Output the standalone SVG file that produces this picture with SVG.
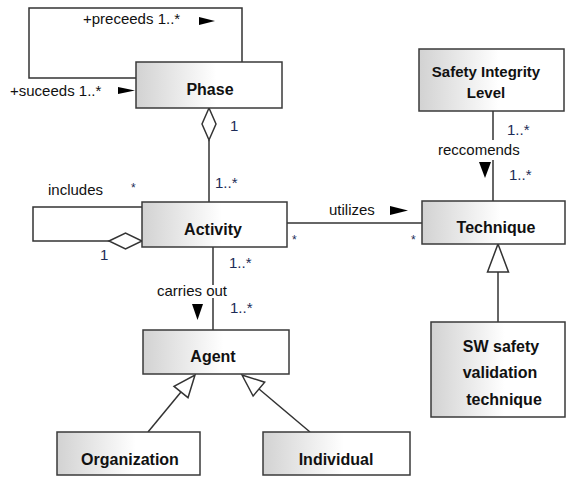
<svg xmlns="http://www.w3.org/2000/svg" width="566" height="477" viewBox="0 0 566 477">
  <defs>
    <linearGradient id="boxFill" x1="0" y1="0" x2="1" y2="0">
      <stop offset="0" stop-color="#d2d2d2"/>
      <stop offset="0.55" stop-color="#ffffff"/>
      <stop offset="1" stop-color="#ffffff"/>
    </linearGradient>
    <style>
      .box { fill: url(#boxFill); stroke: #3a3a3a; stroke-width: 1.5; }
      .name { font-family: "Liberation Sans", Arial, sans-serif; font-size: 16px; font-weight: bold; fill: #111; text-anchor: middle; }
      .lbl { font-family: "Liberation Sans", Arial, sans-serif; font-size: 15px; fill: #111; }
      .mult { font-family: "Liberation Sans", Arial, sans-serif; font-size: 15px; fill: #1d2c57; }
      .star { font-family: "Liberation Sans", Arial, sans-serif; font-size: 12px; fill: #1d2c57; }
      .line { fill: none; stroke: #333; stroke-width: 1.5; }
      .hollow { fill: #fff; stroke: #333; stroke-width: 1.5; }
      .dir { fill: #000; }
    </style>
  </defs>
  <rect width="566" height="477" fill="#fff"/>

  <g id="connectors">
    <!-- Phase self-association -->
    <polyline class="line" points="242,62 242,8 29,8 29,78 136,78"/>
    <!-- Phase aggregates Activity -->
    <line class="line" x1="209" y1="140" x2="209" y2="202"/>
    <polygon class="hollow" points="209,108 216,124 209,140 202,124"/>
    <!-- Activity includes (self aggregation) -->
    <polyline class="line" points="142,207 33,207 33,241 109,241"/>
    <polygon class="hollow" points="109,241 125.5,233 142,241 125.5,249"/>
    <!-- Activity utilizes Technique -->
    <line class="line" x1="287" y1="223" x2="422" y2="223"/>
    <!-- Activity carried out by Agent -->
    <line class="line" x1="213" y1="247" x2="213" y2="285"/>
    <line class="line" x1="213" y1="298" x2="213" y2="330"/>
    <!-- SIL recommends Technique -->
    <line class="line" x1="493" y1="111" x2="493" y2="140"/>
    <line class="line" x1="493" y1="160" x2="493" y2="201"/>
    <!-- Generalizations -->
    <line class="line" x1="498" y1="322" x2="498" y2="272"/>
    <polygon class="hollow" points="498,244 508.5,272 487.5,272"/>
    <line class="line" x1="148" y1="432" x2="181" y2="392"/>
    <polygon class="hollow" points="195,375 188,397.7 174,386.3"/>
    <line class="line" x1="310" y1="432" x2="259" y2="389"/>
    <polygon class="hollow" points="242,375 253.1,396 264.7,382.2"/>

    <!-- labels and reading-direction arrows -->
    <text class="lbl" x="83" y="24">+preceeds 1..*</text>
    <polygon class="dir" points="199,17 215,21 199,25"/>
    <text class="lbl" x="10" y="96">+suceeds 1..*</text>
    <polygon class="dir" points="118,87 135,90.5 118,94"/>
    <text class="mult" x="230" y="131">1</text>
    <text class="mult" x="215" y="188">1..*</text>
    <text class="lbl" x="48" y="195">includes</text>
    <text class="star" x="131" y="192">*</text>
    <text class="mult" x="100" y="260">1</text>
    <text class="lbl" x="329" y="215">utilizes</text>
    <polygon class="dir" points="390,206 408,210.5 390,215"/>
    <text class="star" x="292" y="244">*</text>
    <text class="star" x="411" y="244">*</text>
    <text class="mult" x="229" y="268">1..*</text>
    <text class="lbl" x="157" y="296">carries out</text>
    <polygon class="dir" points="192,304 203,304 197.5,320"/>
    <text class="mult" x="230" y="313">1..*</text>
    <text class="mult" x="507" y="135">1..*</text>
    <text class="lbl" x="438" y="155">reccomends</text>
    <polygon class="dir" points="479,162 491,162 485,178"/>
    <text class="mult" x="509" y="180">1..*</text>
  </g>

  <g id="phase">
    <rect class="box" x="136" y="62" width="146" height="46"/>
    <text class="name" x="210" y="95">Phase</text>
  </g>
  <g id="activity">
    <rect class="box" x="142" y="202" width="145" height="45"/>
    <text class="name" x="213" y="235">Activity</text>
  </g>
  <g id="agent">
    <rect class="box" x="143" y="330" width="146" height="44"/>
    <text class="name" x="213" y="362">Agent</text>
  </g>
  <g id="organization">
    <rect class="box" x="57" y="432" width="143" height="43"/>
    <text class="name" x="130" y="465">Organization</text>
  </g>
  <g id="individual">
    <rect class="box" x="263" y="432" width="147" height="43"/>
    <text class="name" x="336" y="465">Individual</text>
  </g>
  <g id="safety-integrity-level">
    <rect class="box" x="419" y="49" width="145" height="62"/>
    <text class="name" x="486" y="77" style="font-size:15px">Safety Integrity</text>
    <text class="name" x="486" y="98" style="font-size:15px">Level</text>
  </g>
  <g id="technique">
    <rect class="box" x="422" y="201" width="143" height="43"/>
    <text class="name" x="496" y="233">Technique</text>
  </g>
  <g id="sw-safety-validation-technique">
    <rect class="box" x="431" y="322" width="134" height="95"/>
    <text class="name" x="501" y="352">SW safety</text>
    <text class="name" x="500" y="378">validation</text>
    <text class="name" x="504" y="405">technique</text>
  </g>
</svg>
